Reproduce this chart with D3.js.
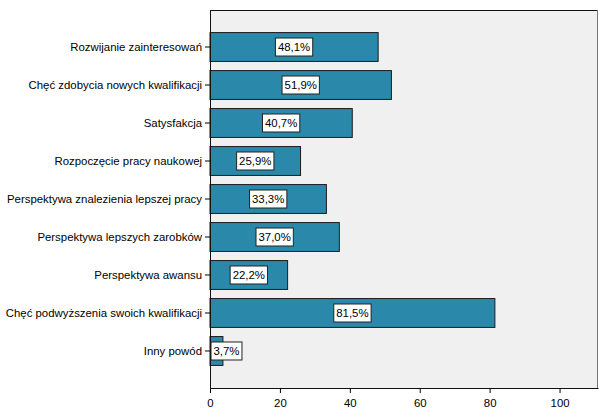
<!DOCTYPE html>
<html><head><meta charset="utf-8">
<script src="https://cdn.jsdelivr.net/npm/d3@7"></script>
<style>body{margin:0;background:#fff}svg{display:block}text{font-family:"Liberation Sans",Arial,sans-serif}</style>
</head><body><svg id="c" width="608" height="414"></svg>
<script>
const categories = ["Rozwijanie zainteresowań","Chęć zdobycia nowych kwalifikacji","Satysfakcja","Rozpoczęcie pracy naukowej","Perspektywa znalezienia lepszej pracy","Perspektywa lepszych zarobków","Perspektywa awansu","Chęć podwyższenia swoich kwalifikacji","Inny powód"];
const values = [48.1,51.9,40.7,25.9,33.3,37.0,22.2,81.5,3.7];
const labels = ["48,1%","51,9%","40,7%","25,9%","33,3%","37,0%","22,2%","81,5%","3,7%"];
const xTicks = [0,20,40,60,80,100];

const svg = d3.select("#c");
const L=210, R=598, T=10, B=388;
const FS = 11.4;
const x = d3.scaleLinear().domain([0,111]).range([L,R]);
const y = d3.scaleBand().domain(categories).range([T,B]).paddingInner(0.24).paddingOuter(0.594);

svg.append("rect").attr("x",L).attr("y",T).attr("width",R-L).attr("height",B-T).attr("fill","#f0f0f0");

svg.selectAll("rect.bar").data(values).enter().append("rect").attr("class","bar")
  .attr("x",x(0)).attr("y",(d,i)=>y(categories[i])).attr("width",d=>x(d)-x(0)).attr("height",y.bandwidth())
  .attr("fill","#2a89ab").attr("stroke","#1b1b1b").attr("stroke-width",1);

// border
svg.append("line").attr("x1",L).attr("x2",R).attr("y1",T+0.5).attr("y2",T+0.5).attr("stroke","#111");
svg.append("line").attr("x1",R-0.5).attr("x2",R-0.5).attr("y1",T).attr("y2",B).attr("stroke","#777");

const xa = svg.append("g").attr("transform",`translate(0,${B})`).call(d3.axisBottom(x).tickValues(xTicks).tickSize(5).tickSizeOuter(0));
xa.select(".domain").attr("stroke","#111");
xa.selectAll("text").attr("font-size",FS).attr("fill","#000").attr("dy","0.95em").attr("font-family","Liberation Sans, Arial");
const ya = svg.append("g").attr("transform",`translate(${L},0)`).call(d3.axisLeft(y).tickSize(5).tickSizeOuter(0));
ya.select(".domain").attr("stroke","#111");
ya.selectAll("text").attr("font-size",FS).attr("fill","#000").attr("font-family","Liberation Sans, Arial");

// value labels
const g = svg.append("g");
values.forEach((v,i)=>{
  const cy = y(categories[i]) + y.bandwidth()/2;
  const t = g.append("text").text(labels[i]).attr("font-size",FS).attr("text-anchor","middle").attr("dominant-baseline","central").attr("y",cy);
  const w = t.node().getComputedTextLength()+5;
  let cx = x(v/2);
  if (cx - w/2 < L+1) cx = L+1+w/2;
  t.attr("x",cx);
  g.insert("rect","text").attr("x",cx-w/2).attr("y",cy-9).attr("width",w).attr("height",18).attr("fill","#fff").attr("stroke","#222");
});
</script></body></html>
